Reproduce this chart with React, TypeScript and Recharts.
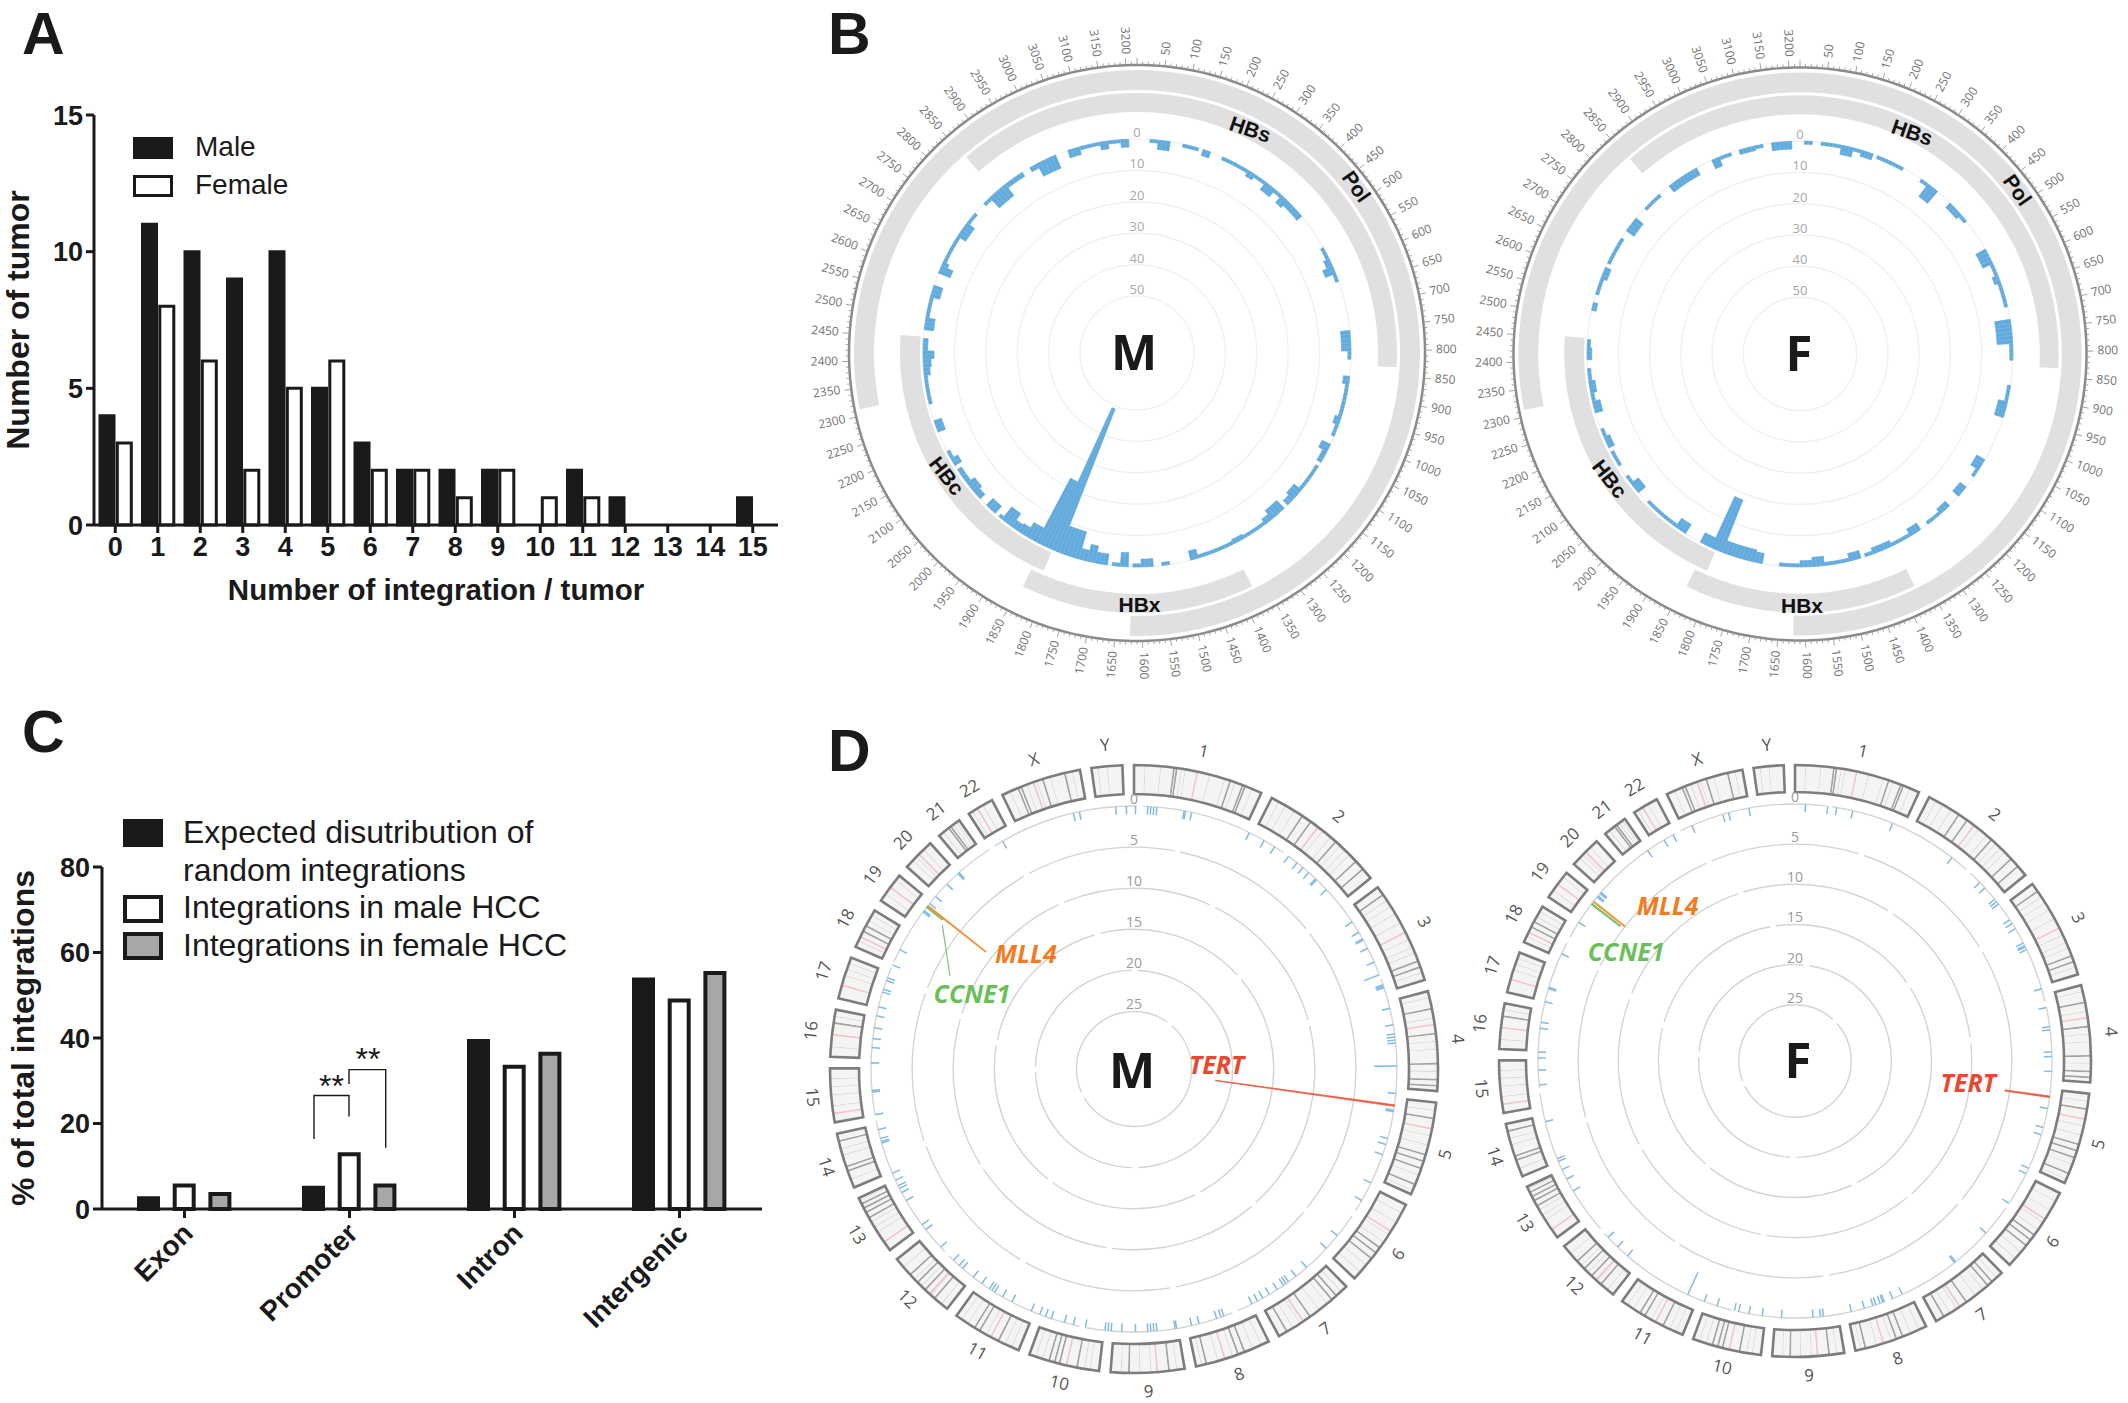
import {
  Bar,
  BarChart,
  Cell,
  Legend,
  Pie,
  PieChart,
  PolarAngleAxis,
  PolarGrid,
  PolarRadiusAxis,
  RadialBar,
  RadialBarChart,
  XAxis,
  YAxis
} from "recharts";

// panel A
const integrationCounts = ["0", "1", "2", "3", "4", "5", "6", "7", "8", "9", "10", "11", "12", "13", "14", "15"];
const maleTumors = [4, 11, 10, 9, 10, 5, 3, 2, 2, 2, 0, 2, 1, 0, 0, 1];
const femaleTumors = [3, 8, 6, 2, 5, 6, 2, 2, 1, 2, 1, 1, 0, 0, 0, 0];

// panel C
const regions = ["Exon", "Promoter", "Intron", "Intergenic"];
const expectedShare = [2.5, 5, 39.3, 53.7];
const maleShare = [5.5, 12.8, 33.3, 48.8];
const femaleShare = [3.5, 5.5, 36.3, 55.2];

// panel B, HBV genome histogram: runs of 10 bp bins, from / to / count
const maleFrom = [30, 50, 110, 160, 210, 280, 300, 330, 360, 380, 400, 540, 570, 590, 610, 750, 800, 860, 880, 960, 980, 1030, 1050, 1090, 1120, 1160, 1190, 1220, 1260, 1280, 1340, 1370, 1460, 1530, 1570, 1600, 1630, 1650, 1680, 1710, 1730, 1750, 1800, 1830, 1860, 1890, 1910, 1930, 1960, 1980, 2030, 2050, 2080, 2130, 2150, 2220, 2290, 2360, 2380, 2400, 2420, 2470, 2500, 2550, 2610, 2630, 2640, 2710, 2750, 2810, 2830, 2880, 2950, 2970, 3050, 3080, 3130, 3150, 3180];
const maleTo = [50, 80, 150, 180, 280, 300, 330, 360, 380, 400, 450, 570, 590, 610, 630, 800, 820, 880, 960, 980, 1010, 1050, 1080, 1120, 1160, 1190, 1210, 1260, 1280, 1340, 1370, 1460, 1480, 1550, 1600, 1620, 1650, 1670, 1710, 1730, 1750, 1800, 1830, 1860, 1890, 1910, 1930, 1960, 1970, 2010, 2050, 2080, 2120, 2150, 2170, 2250, 2360, 2380, 2400, 2420, 2450, 2500, 2550, 2580, 2630, 2640, 2710, 2750, 2780, 2830, 2880, 2930, 2970, 3020, 3080, 3130, 3150, 3180, 3200];
const maleCount = [1, 3, 1, 2, 1, 2, 1, 3, 1, 3, 2, 1, 2, 3.5, 1, 3, 1, 2, 1, 2, 1, 3, 1.5, 1, 1, 3, 2, 3.5, 2, 1, 1.5, 1, 3, 1, 2.5, 1, 4.5, 1, 3.5, 5.5, 3.5, 9, 49, 23, 5, 3, 2.5, 5, 1, 3, 2, 3, 1.5, 2.5, 1, 2.5, 1, 2, 2.5, 3.5, 1.5, 3, 1, 3, 4, 2, 1, 3, 1, 1, 4.5, 1.5, 1.5, 4.5, 2.5, 1, 2.5, 1, 2.5];

const femaleFrom = [10, 50, 100, 130, 150, 190, 310, 330, 400, 440, 540, 580, 610, 630, 720, 780, 880, 920, 1070, 1100, 1150, 1210, 1240, 1300, 1330, 1380, 1430, 1460, 1490, 1550, 1580, 1610, 1700, 1720, 1750, 1780, 1800, 1830, 1900, 1930, 2050, 2080, 2130, 2180, 2210, 2270, 2300, 2320, 2350, 2400, 2430, 2520, 2560, 2600, 2640, 2730, 2800, 2880, 3000, 3020, 3070, 3110, 3150];
const femaleTo = [30, 100, 130, 150, 180, 260, 330, 360, 440, 460, 580, 610, 630, 690, 780, 820, 920, 960, 1100, 1120, 1180, 1240, 1280, 1330, 1380, 1430, 1450, 1490, 1550, 1580, 1610, 1660, 1720, 1750, 1780, 1800, 1830, 1860, 1930, 2020, 2080, 2100, 2170, 2210, 2230, 2300, 2320, 2350, 2380, 2430, 2450, 2540, 2600, 2630, 2710, 2770, 2850, 2960, 3020, 3050, 3110, 3130, 3200];
const femaleCount = [1, 1, 3, 1, 2, 1, 1, 5, 2, 1, 3.5, 1, 2, 1, 5, 1, 1, 3, 3, 1, 2.5, 2, 1, 2.5, 1, 2, 1, 2.5, 1, 3, 2, 1, 3.3, 4, 4, 4, 18, 3.4, 3.4, 1, 3, 1, 1, 2, 1, 2.5, 1, 2, 1, 1.5, 1, 1.5, 1, 2, 1, 3, 1, 2.5, 3, 1, 1.5, 1, 2.5];

// gene tracks, spans in bp going round from position 0, every other span is a gap
const polSpans = [1620, 689, 906];
const hbsHbxSpans = [832, 541, 467, 1008, 367];
const hbcSpans = [1815, 635, 765];

// panel D, human genome sites, position in degrees round the circle
const maleSites = [356, 358.3, 0.2, 2.9, 3.7, 4.4, 5.1, 11, 11.4, 12.7, 346.7, 348, 26, 29.6, 32.3, 36, 38.2, 40, 41.8, 43.6, 44, 46.9, 56, 58.5, 60.4, 60.7, 62.8, 65.9, 71.3, 71.7, 72, 76.7, 80.2, 82.2, 82.9, 83.6, 84.2, 95.4, 98.9, 99.3, 105.4, 106.5, 108.9, 115.7, 120, 129.4, 133, 139, 142, 144, 144.7, 145.3, 146.9, 149, 150.7, 152, 153.4, 160, 160.7, 161.8, 165.7, 167.4, 170.5, 171, 175, 175.6, 176.3, 177, 179.8, 182.7, 185, 185.6, 186.3, 190.7, 193.4, 195.3, 198.4, 199.6, 201, 203, 207.5, 209.9, 212, 212.7, 213.3, 215.4, 217.6, 220.5, 221.5, 223.3, 227.3, 232.2, 233.7, 240, 242.1, 242.9, 243.6, 245, 246.5, 253.6, 254, 254.5, 256.7, 260, 265, 265.3, 271.2, 274.8, 276.5, 279, 281.7, 283.6, 287, 287.7, 289.8, 290.2, 293.3, 297, 306.7, 307, 309, 311, 314.8, 317.9, 318.4, 330.1];
const maleLongSites = [68.9, 89.3];
const maleLongCounts = [2, 2.8];
const maleTert = [97.9, 22];
const maleMll4 = [308.4, 9];
const maleCcne1 = [307.9, 2.5];

const femaleSites = [2.2, 7.2, 9.4, 12.9, 22.2, 37.6, 46, 47.5, 51, 51.7, 52.4, 56.6, 57.6, 59, 62.7, 63.2, 63.7, 64.2, 73.8, 78, 82.4, 83, 88, 89, 92.4, 100.6, 105, 106.6, 114.7, 115.9, 123.8, 132, 141.3, 141.8, 155.4, 157.7, 159.5, 160, 160.5, 161.7, 162.3, 164.4, 167.2, 173.6, 174.2, 176.1, 182.9, 187.3, 190.3, 192.6, 193.6, 197.7, 200.5, 220.8, 223.7, 226.7, 239.7, 242.8, 245, 247, 247.7, 256.4, 264.7, 267.9, 270.5, 272, 277.3, 278.8, 283.3, 286.2, 286.7, 294.7, 302.8, 309.5, 310, 310.5, 311, 325, 329.4, 331.5, 336.4, 343.5, 345.1, 349.7];
const femaleLongSites = [204.8];
const femaleLongCounts = [3];
const femaleTert = [98, 5.6];
const femaleMll4 = [308.2, 5];
const femaleCcne1 = [307.5, 4.5];

// chromosomes and their bands, band position as a fraction of the chromosome
const chromosomes = ["1", "2", "3", "4", "5", "6", "7", "8", "9", "10", "11", "12", "13", "14", "15", "16", "17", "18", "19", "20", "21", "22", "X", "Y"];
const chromosomeMb = [249, 243, 198, 191, 181, 171, 159, 146, 141, 136, 135, 134, 115, 107, 103, 90, 81, 78, 59, 63, 48, 51, 155, 59];
const gapMb = 22;
const darkBands = [
  [0.3, 0.32, 0.74, 0.84, 0.86], [0.27, 0.35, 0.6, 0.82, 0.9], [0.08, 0.8, 0.86], [0.17, 0.42, 0.72, 0.88, 0.94],
  [0.16, 0.55, 0.62, 0.7, 0.88], [0.55, 0.62, 0.7], [0.15, 0.22, 0.55, 0.88], [0.33, 0.42, 0.85],
  [0.2, 0.74], [0.3, 0.55, 0.62, 0.7], [0.3, 0.6, 0.68], [0.22, 0.4, 0.55, 0.7],
  [0.62, 0.72, 0.8, 0.88], [0.3, 0.38, 0.85], [], [0.7],
  [], [0.4, 0.55], [], [], [0.45, 0.55], [], [0.2, 0.24, 0.52, 0.8], []
];
const midBands = [
  [0.08, 0.2, 0.36, 0.39, 0.58, 0.7, 0.78, 0.92], [0.06, 0.12, 0.2, 0.47, 0.55, 0.65, 0.7, 0.75], [0.15, 0.22, 0.3, 0.4, 0.58, 0.66, 0.72, 0.92], [0.06, 0.27, 0.5, 0.58, 0.8],
  [0.08, 0.35, 0.45, 0.78, 0.95], [0.1, 0.22, 0.38, 0.48, 0.8, 0.9], [0.08, 0.3, 0.42, 0.7, 0.8], [0.1, 0.22, 0.5, 0.7, 0.92],
  [0.1, 0.45, 0.6, 0.85], [0.12, 0.2, 0.8, 0.9], [0.1, 0.2, 0.5, 0.8, 0.9], [0.1, 0.3, 0.48, 0.62, 0.85],
  [0.35, 0.45, 0.55, 0.95], [0.15, 0.6, 0.72], [0.3, 0.5, 0.65, 0.8], [0.2, 0.85],
  [0.55, 0.7, 0.85], [0.15, 0.7, 0.85], [0.25, 0.8], [0.25, 0.4, 0.7], [0.2, 0.7, 0.85], [0.15, 0.6], [0.1, 0.32, 0.45, 0.62, 0.9], [0.2, 0.5]
];
const pinkBands = [[0.48], [0.42], [0.5], [0.33], [0.27], [0.33], [0.65], [0.6], [0.36], [0.45], [0.42], [0.3], [0.15], [], [0.15], [0.45], [0.3], [0.25], [0.5], [0.5], [], [0.35], [0.4], []];

const ink = "#1a1a1a";
const blue = "#62abdc";
const siteBlue = "#7fbbe6";
const trackGrey = "#e0e0e0";
const sansFont = "'Liberation Sans', Arial, sans-serif";
const labelFont = "'Open Sans', sans-serif";

const maleTumorName = "Male";
const femaleTumorName = "Female";
const tumorNames = [maleTumorName, femaleTumorName];
const shareNames = ["Expected disutribution of random integrations", "Integrations in male HCC", "Integrations in female HCC"];

const tumorRows = integrationCounts.map((count, index) => ({
  count,
  male: maleTumors[index],
  female: femaleTumors[index]
}));

const regionRows = regions.map((region, index) => ({
  region,
  expected: expectedShare[index],
  male: maleShare[index],
  female: femaleShare[index]
}));

// values are stored as [-count, 0] because a bar grows inward from the zero ring
function genomeBins(from: number[], to: number[], count: number[]) {
  const bins: { bp: number; depth: number[] }[] = [];
  for (let bp = 0; bp <= 3210; bp += 10) {
    bins.push({ bp, depth: [0, 0] });
  }
  from.forEach((start, run) => {
    for (const bin of bins) {
      if (bin.bp >= start && bin.bp < to[run]) {
        bin.depth = [-count[run], 0];
      }
    }
  });
  return bins;
}

function siteBins(sites: number[], longSites: number[], longCounts: number[], tert: number[], mll4: number[], ccne1: number[]) {
  const bins: { bin: number; depth: number[]; fill: string; stroke: string }[] = [];
  for (let bin = 0; bin < 1080; bin += 1) {
    bins.push({ bin, depth: [0, 0], fill: siteBlue, stroke: "none" });
  }
  const put = (deg: number, count: number, fill: string, stroke: string) => {
    const bin = bins[Math.round(deg * 3) % 1080];
    bin.depth = [-count, 0];
    bin.fill = fill;
    bin.stroke = stroke;
  };
  sites.forEach((deg) => put(deg, 1, siteBlue, "none"));
  longSites.forEach((deg, index) => put(deg, longCounts[index], siteBlue, "none"));
  put(tert[0], tert[1], "#ec5a3f", "#ec5a3f");
  put(mll4[0], mll4[1], "#f0953a", "#f0953a");
  put(ccne1[0], ccne1[1], "#6fc060", "#6fc060");
  return bins;
}

function ideogramRows() {
  const rows: { mb: number; kind: string }[] = [];
  chromosomes.forEach((_, index) => {
    const length = chromosomeMb[index];
    const bands = [
      ...darkBands[index].map((at) => ({ at, kind: "dark", width: 3.6 })),
      ...midBands[index].map((at) => ({ at, kind: "mid", width: 2 })),
      ...pinkBands[index].map((at) => ({ at, kind: "pink", width: 3.6 }))
    ].sort((a, b) => a.at - b.at);
    let cursor = 0;
    for (const band of bands) {
      const start = band.at * length;
      if (start > cursor) {
        rows.push({ mb: start - cursor, kind: "base" });
        cursor = start;
      }
      rows.push({ mb: band.width, kind: band.kind });
      cursor += band.width;
    }
    if (cursor < length) {
      rows.push({ mb: length - cursor, kind: "base" });
    }
    rows.push({ mb: gapMb, kind: "gap" });
  });
  return rows;
}

const outlineRows = chromosomes.flatMap((chr, index) => [
  { chr, mb: chromosomeMb[index] },
  { chr: "", mb: gapMb }
]);

const bandColors: Record<string, string> = {
  base: "#f4f4f4",
  dark: "#a2a2a2",
  mid: "#d8d8d8",
  pink: "#f4c3c8",
  gap: "none"
};

function spanRows(spans: number[]) {
  return spans.map((bp, index) => ({ bp, index }));
}

function GenomeCircle({ cx, cy, radius, from, to, count, scale }: { cx: number; cy: number; radius: number; from: number[]; to: number[]; count: number[]; scale: number }) {
  const size = 680;
  const mid = size / 2;
  const bins = genomeBins(from, to, count);
  const layer = { position: "absolute" as const, left: 0, top: 0 };
  const binAngle = 360 / bins.length;

  const axisTick = (props: any) => {
    const bp = props.payload.value;
    const norm = (((90 - props.payload.coordinate) % 360) + 360) % 360;
    const theta = (norm * Math.PI) / 180;
    const major = bp % 50 === 0;
    const point = (r: number) => ({ x: mid + r * Math.sin(theta), y: mid - r * Math.cos(theta) });
    const start = point(radius);
    const end = point(radius + (major ? 7 : 3.5));
    const textAt = point(radius + 11);
    const rightSide = norm < 180;
    const rotation = rightSide ? norm - 90 : norm - 270;
    return (
      <g>
        <line x1={start.x} y1={start.y} x2={end.x} y2={end.y} stroke="#9a9a9a" strokeWidth={0.9} />
        {major && bp > 0 ? (
          <text
            x={textAt.x}
            y={textAt.y}
            textAnchor={rightSide ? "start" : "end"}
            dominantBaseline="middle"
            transform={`rotate(${rotation} ${textAt.x} ${textAt.y})`}
            fontFamily={labelFont}
            fontSize={12}
            fill="#727272"
          >
            {bp}
          </text>
        ) : null}
      </g>
    );
  };

  const ringTick = (props: any) => (
    <text x={props.x} y={props.y - 2} textAnchor="middle" fontFamily={labelFont} fontSize={13} fill="#a8a8a8">
      {Math.abs(props.payload.value)}
    </text>
  );

  return (
    <div style={{ position: "absolute", left: cx - mid, top: cy - mid, width: size, height: size }}>
      <div style={layer}>
        <PieChart width={size} height={size} margin={{ top: 0, right: 0, bottom: 0, left: 0 }}>
          <Pie data={spanRows(polSpans)} dataKey="bp" cx={mid} cy={mid} innerRadius={263 * scale} outerRadius={283 * scale} startAngle={90} endAngle={-270} stroke="none" isAnimationActive={false}>
            {polSpans.map((_, index) => (
              <Cell key={index} fill={index % 2 === 0 ? trackGrey : "none"} />
            ))}
          </Pie>
          <Pie data={spanRows(hbsHbxSpans)} dataKey="bp" cx={mid} cy={mid} innerRadius={241 * scale} outerRadius={260 * scale} startAngle={90} endAngle={-270} stroke="none" isAnimationActive={false}>
            {hbsHbxSpans.map((_, index) => (
              <Cell key={index} fill={index % 2 === 0 ? trackGrey : "none"} />
            ))}
          </Pie>
          <Pie data={spanRows(hbcSpans)} dataKey="bp" cx={mid} cy={mid} innerRadius={217 * scale} outerRadius={237 * scale} startAngle={90} endAngle={-270} stroke="none" isAnimationActive={false}>
            {hbcSpans.map((_, index) => (
              <Cell key={index} fill={index % 2 === 1 ? trackGrey : "none"} />
            ))}
          </Pie>
        </PieChart>
      </div>
      <div style={layer}>
        <RadialBarChart
          width={size}
          height={size}
          data={bins}
          layout="centric"
          cx={mid}
          cy={mid}
          innerRadius={0}
          outerRadius={214 * scale}
          startAngle={90 - binAngle}
          endAngle={-270 - binAngle}
          barCategoryGap={0}
          barGap={0}
          margin={{ top: 0, right: 0, bottom: 0, left: 0 }}
        >
          <PolarGrid gridType="circle" radialLines={false} stroke="#efefef" strokeWidth={1.2} />
          <PolarAngleAxis type="category" dataKey="bp" tick={false} tickLine={false} axisLine={false} />
          <PolarRadiusAxis type="number" domain={[-68.15, 0]} ticks={[0, -10, -20, -30, -40, -50]} angle={90} axisLine={false} tickLine={false} tick={ringTick} />
          <RadialBar dataKey="depth" fill={blue} isAnimationActive={false}>
            {bins.map((bin) => (
              <Cell key={bin.bp} fill={blue} stroke={bin.depth[0] < 0 ? blue : "none"} strokeWidth={0.7} />
            ))}
          </RadialBar>
        </RadialBarChart>
      </div>
      <div style={layer}>
        <RadialBarChart
          width={size}
          height={size}
          data={bins}
          layout="centric"
          cx={mid}
          cy={mid}
          innerRadius={0}
          outerRadius={radius}
          startAngle={90}
          endAngle={-270}
          margin={{ top: 0, right: 0, bottom: 0, left: 0 }}
        >
          <PolarAngleAxis type="category" dataKey="bp" axisLine={{ stroke: "#8a8a8a", strokeWidth: 2.5 }} tickLine={false} tick={axisTick} />
          <PolarRadiusAxis type="number" domain={[0, 1]} tick={false} axisLine={false} tickLine={false} />
        </RadialBarChart>
      </div>
    </div>
  );
}

function HumanCircle({ cx, cy, outer, inner, zero, unit, sites, longSites, longCounts, tert, mll4, ccne1 }: { cx: number; cy: number; outer: number; inner: number; zero: number; unit: number; sites: number[]; longSites: number[]; longCounts: number[]; tert: number[]; mll4: number[]; ccne1: number[] }) {
  const size = 680;
  const mid = size / 2;
  const bins = siteBins(sites, longSites, longCounts, tert, mll4, ccne1);
  const bandRows = ideogramRows();
  const layer = { position: "absolute" as const, left: 0, top: 0 };

  const chrLabel = (props: any) => {
    if (!props.chr) {
      return null;
    }
    const norm = (((90 - props.midAngle) % 360) + 360) % 360;
    const theta = (norm * Math.PI) / 180;
    const r = outer + 20;
    const x = mid + r * Math.sin(theta);
    const y = mid - r * Math.cos(theta);
    const rotation = norm > 90 && norm < 270 ? norm - 180 : norm > 270 ? norm - 360 : norm;
    return (
      <text x={x} y={y} textAnchor="middle" dominantBaseline="middle" transform={`rotate(${rotation} ${x} ${y})`} fontFamily={labelFont} fontSize={17} fill="#555555">
        {props.chr}
      </text>
    );
  };

  const ringTick = (props: any) => (
    <text x={props.x} y={props.y - 2} textAnchor="middle" fontFamily={labelFont} fontSize={14} fill="#9a9a9a">
      {Math.abs(props.payload.value)}
    </text>
  );

  return (
    <div style={{ position: "absolute", left: cx - mid, top: cy - mid, width: size, height: size }}>
      <div style={layer}>
        <PieChart width={size} height={size} margin={{ top: 0, right: 0, bottom: 0, left: 0 }}>
          <Pie data={bandRows} dataKey="mb" cx={mid} cy={mid} innerRadius={inner} outerRadius={outer} startAngle={90} endAngle={-270} stroke="none" isAnimationActive={false}>
            {bandRows.map((row, index) => (
              <Cell key={index} fill={bandColors[row.kind]} />
            ))}
          </Pie>
          <Pie data={outlineRows} dataKey="mb" cx={mid} cy={mid} innerRadius={inner} outerRadius={outer} startAngle={90} endAngle={-270} isAnimationActive={false} label={chrLabel} labelLine={false}>
            {outlineRows.map((row, index) => (
              <Cell key={index} fill="none" stroke={row.chr ? "#7d7d7d" : "none"} strokeWidth={2.6} />
            ))}
          </Pie>
        </PieChart>
      </div>
      <div style={layer}>
        <RadialBarChart
          width={size}
          height={size}
          data={bins}
          layout="centric"
          cx={mid}
          cy={mid}
          innerRadius={0}
          outerRadius={zero}
          startAngle={90 - 1 / 6}
          endAngle={-270 - 1 / 6}
          barCategoryGap={0}
          barGap={0}
          margin={{ top: 0, right: 0, bottom: 0, left: 0 }}
        >
          <PolarGrid gridType="circle" radialLines={false} stroke="#d4d4d4" strokeWidth={1.4} strokeDasharray="150 6" />
          <PolarAngleAxis type="category" dataKey="bin" tick={false} tickLine={false} axisLine={false} />
          <PolarRadiusAxis type="number" domain={[-zero / unit, 0]} ticks={[0, -5, -10, -15, -20, -25]} angle={90} axisLine={false} tickLine={false} tick={ringTick} />
          <RadialBar dataKey="depth" fill={siteBlue} isAnimationActive={false}>
            {bins.map((bin) => (
              <Cell key={bin.bin} fill={bin.fill} stroke={bin.stroke} strokeWidth={0.8} />
            ))}
          </RadialBar>
        </RadialBarChart>
      </div>
    </div>
  );
}

function swatchLegend(textLeft: number, fontSize: number, swatchHeight: number, border: number, lineHeight: number) {
  return (props: any) => (
    <div style={{ fontFamily: sansFont, fontSize, lineHeight: `${lineHeight}px`, color: ink }}>
      {(props.payload ?? []).map((entry: any) => (
        <div key={entry.value} style={{ position: "relative", paddingLeft: textLeft, maxWidth: 420 }}>
          <span
            style={{
              position: "absolute",
              left: 0,
              top: (lineHeight - swatchHeight) / 2 + 0.5,
              width: 40,
              height: swatchHeight,
              boxSizing: "border-box",
              background: entry.payload?.fill,
              border: `${border}px solid ${ink}`
            }}
          />
          {entry.value}
        </div>
      ))}
    </div>
  );
}

function regionTick(props: any) {
  return (
    <text
      x={props.x + 10}
      y={props.y + 15}
      textAnchor="end"
      transform={`rotate(-45 ${props.x + 10} ${props.y + 15})`}
      fontFamily={sansFont}
      fontWeight={700}
      fontSize={28}
      fill={ink}
    >
      {props.payload.value}
    </text>
  );
}

function Annotations() {
  const letter = { fontFamily: sansFont, fontWeight: 700, fontSize: 59, fill: ink };
  const center = { fontFamily: labelFont, fontWeight: 700, fontSize: 49, fill: ink, textAnchor: "middle" as const };
  const gene = { fontFamily: sansFont, fontWeight: 700, fontSize: 21, fill: "#111111", textAnchor: "middle" as const, dominantBaseline: "middle" as const };
  const hit = { fontFamily: labelFont, fontWeight: 700, fontStyle: "italic", fontSize: 25 };
  const geneLabels: [string, number, number, number][] = [
    ["HBs", 1249.7, 131, 19],
    ["Pol", 1355, 187.5, 55],
    ["HBc", 945.3, 477, 52],
    ["HBx", 1139.5, 606, 0],
    ["HBs", 1911.6, 134, 19],
    ["Pol", 2016, 191, 55],
    ["HBc", 1608.3, 480, 52],
    ["HBx", 1802, 607, 0]
  ];
  return (
    <svg width={2128} height={1403} style={{ position: "absolute", left: 0, top: 0, pointerEvents: "none" }}>
      <text x={22} y={54} {...letter}>A</text>
      <text x={828} y={54} {...letter}>B</text>
      <text x={22} y={752} {...letter}>C</text>
      <text x={828} y={771} {...letter}>D</text>
      <text x={1134} y={370} {...center}>M</text>
      <text x={1799} y={371} {...center}>F</text>
      <text x={1132} y={1088} {...center}>M</text>
      <text x={1798} y={1078} {...center}>F</text>
      {geneLabels.map(([name, x, y, angle]) => (
        <text key={`${name}${x}`} x={x} y={y} transform={`rotate(${angle} ${x} ${y})`} {...gene}>
          {name}
        </text>
      ))}
      <path d="M314 1139 V1095.5 H349 V1116.5" fill="none" stroke={ink} strokeWidth={1.4} />
      <path d="M349 1084 V1069.6 H385.7 V1147.8" fill="none" stroke={ink} strokeWidth={1.4} />
      <text x={331.5} y={1097} textAnchor="middle" fontFamily={sansFont} fontSize={32} fill={ink}>**</text>
      <text x={368} y={1070} textAnchor="middle" fontFamily={sansFont} fontSize={32} fill={ink}>**</text>
      <text x={1189} y={1073.6} fill="#e8492f" {...hit}>TERT</text>
      <text x={995} y={963} fill="#f47b20" {...hit}>MLL4</text>
      <text x={933.6} y={1003} fill="#6abf5b" {...hit}>CCNE1</text>
      <text x={1940.6} y={1092} fill="#e8492f" {...hit}>TERT</text>
      <text x={1636.8} y={914.7} fill="#f47b20" {...hit}>MLL4</text>
      <text x={1587.8} y={960.9} fill="#6abf5b" {...hit}>CCNE1</text>
      <line x1={942.3} y1={925} x2={950} y2={976} stroke="#7cc36e" strokeWidth={1.2} />
    </svg>
  );
}

export default function App() {
  const axisStroke = { stroke: ink, strokeWidth: 3 };
  const tickStyle = { fontFamily: sansFont, fontWeight: 700, fontSize: 27, fill: ink };
  return (
    <div style={{ position: "absolute", left: 0, top: 0, width: 2128, height: 1403, background: "#ffffff", overflow: "hidden" }}>
      <div style={{ position: "absolute", left: 0, top: 0 }}>
        <BarChart width={800} height={620} data={tumorRows} margin={{ top: 115, right: 22, bottom: 35, left: 10 }} barSize={14} barGap={3.3} barCategoryGap={0}>
          <XAxis
            dataKey="count"
            interval={0}
            height={60}
            tickSize={8}
            tickMargin={4}
            padding={{ left: 0, right: 4 }}
            axisLine={axisStroke}
            tickLine={axisStroke}
            tick={tickStyle}
            label={{ value: "Number of integration / tumor", position: "insideBottom", offset: -15, style: { fontFamily: sansFont, fontWeight: 700, fontSize: 29.5, fill: ink } }}
          />
          <YAxis
            domain={[0, 15]}
            ticks={[0, 5, 10, 15]}
            width={84}
            tickSize={8}
            tickMargin={3}
            axisLine={axisStroke}
            tickLine={axisStroke}
            tick={tickStyle}
            label={{ value: "Number of tumor", angle: -90, position: "center", dx: -34, style: { fontFamily: sansFont, fontWeight: 700, fontSize: 32, fill: ink } }}
          />
          <Legend
            layout="horizontal"
            verticalAlign="middle"
            itemSorter={(entry: any) => tumorNames.indexOf(entry.value)}
            wrapperStyle={{ left: 133, top: 128, width: 300 }}
            content={swatchLegend(62, 28, 22, 3, 38)}
          />
          <Bar name={maleTumorName} dataKey="male" fill={ink} stroke={ink} strokeWidth={3} isAnimationActive={false} />
          <Bar name={femaleTumorName} dataKey="female" fill="#ffffff" stroke={ink} strokeWidth={3} isAnimationActive={false} />
        </BarChart>
      </div>
      <div style={{ position: "absolute", left: 0, top: 700 }}>
        <BarChart width={800} height={703} data={regionRows} margin={{ top: 167, right: 38, bottom: 34, left: 10 }} barSize={19} barGap={16.7} barCategoryGap={0}>
          <XAxis dataKey="region" interval={0} height={160} tickSize={9} axisLine={axisStroke} tickLine={axisStroke} tick={regionTick} />
          <YAxis
            domain={[0, 80]}
            ticks={[0, 20, 40, 60, 80]}
            width={92}
            tickSize={9}
            tickMargin={3}
            axisLine={axisStroke}
            tickLine={axisStroke}
            tick={tickStyle}
            label={{ value: "% of total integrations", angle: -90, position: "center", dx: -33, style: { fontFamily: sansFont, fontWeight: 700, fontSize: 32, fill: ink } }}
          />
          <Legend
            layout="horizontal"
            verticalAlign="middle"
            itemSorter={(entry: any) => shareNames.indexOf(entry.value)}
            wrapperStyle={{ left: 123, top: 114, width: 480 }}
            content={swatchLegend(60, 32, 28, 4, 37.7)}
          />
          <Bar name={shareNames[0]} dataKey="expected" fill={ink} stroke={ink} strokeWidth={4} isAnimationActive={false} />
          <Bar name={shareNames[1]} dataKey="male" fill="#ffffff" stroke={ink} strokeWidth={4} isAnimationActive={false} />
          <Bar name={shareNames[2]} dataKey="female" fill="#a7a7aa" stroke={ink} strokeWidth={4} isAnimationActive={false} />
        </BarChart>
      </div>
      <GenomeCircle cx={1136.5} cy={353} radius={288} from={maleFrom} to={maleTo} count={maleCount} scale={1} />
      <GenomeCircle cx={1800} cy={354} radius={286.5} from={femaleFrom} to={femaleTo} count={femaleCount} scale={0.995} />
      <HumanCircle cx={1134} cy={1069} outer={304} inner={275} zero={263} unit={8.34} sites={maleSites} longSites={maleLongSites} longCounts={maleLongCounts} tert={maleTert} mll4={maleMll4} ccne1={maleCcne1} />
      <HumanCircle cx={1795} cy={1061} outer={296} inner={269} zero={257} unit={8.14} sites={femaleSites} longSites={femaleLongSites} longCounts={femaleLongCounts} tert={femaleTert} mll4={femaleMll4} ccne1={femaleCcne1} />
      <Annotations />
    </div>
  );
}
